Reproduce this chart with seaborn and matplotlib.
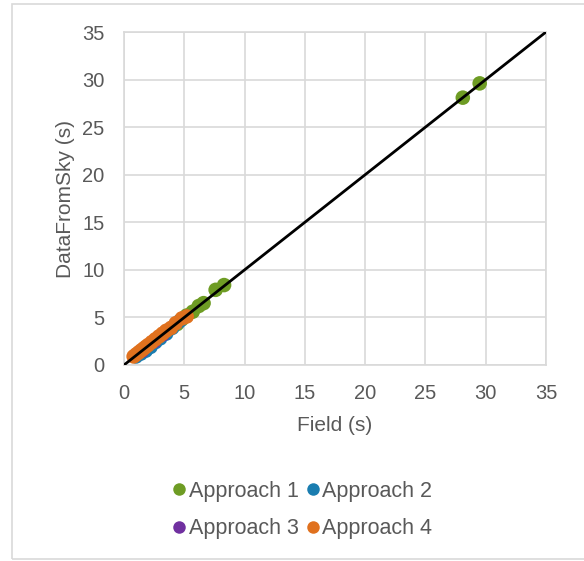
import matplotlib
matplotlib.use("Agg")
import matplotlib.pyplot as plt
import seaborn as sns
import pandas as pd
from matplotlib.patches import Rectangle

# ---- data ----
a1_field = [28.1, 29.5, 8.3, 7.6, 6.6, 6.2, 5.7, 5.2, 4.8, 4.4]
a1_sky   = [28.1, 29.6, 8.4, 7.9, 6.5, 6.2, 5.6, 5.2, 4.8, 4.3]
a2_field = [1.0, 1.4, 1.8, 2.2, 2.6, 3.0, 3.5, 4.0, 4.6]
a2_sky   = [0.9, 1.2, 1.5, 1.9, 2.4, 2.8, 3.3, 3.9, 4.6]
a3_field = [1.5, 2.5, 3.2]
a3_sky   = [1.5, 2.5, 3.2]
a4_field = [0.8, 1.0, 1.2, 1.4, 1.6, 1.8, 2.0, 2.3, 2.6, 2.9, 3.2, 3.5, 3.9, 4.3, 4.8, 5.2]
a4_sky   = [0.9, 1.1, 1.3, 1.5, 1.7, 1.9, 2.1, 2.4, 2.7, 3.0, 3.3, 3.6, 3.9, 4.4, 4.9, 5.1]
labels = ["Approach 1", "Approach 2", "Approach 3", "Approach 4"]
colors = ["#6E9C24", "#1A7DB0", "#7030A0", "#E0711E"]
line_x = [0, 35]
line_y = [0, 35]
ticks = [0, 5, 10, 15, 20, 25, 30, 35]

rows = []
for lab, fx, sy in zip(labels, [a1_field, a2_field, a3_field, a4_field],
                       [a1_sky, a2_sky, a3_sky, a4_sky]):
    for f, s in zip(fx, sy):
        rows.append({"Field": f, "Sky": s, "Approach": lab})
df = pd.DataFrame(rows)

sns.set_style("white")
plt.rcParams["font.family"] = ["Liberation Sans", "DejaVu Sans"]
TXT = "#595959"

fig = plt.figure(figsize=(5.84, 5.61), dpi=100)
fig.patches.append(Rectangle((12/584, 1-559/561), 1.0, (559-4)/561,
                             transform=fig.transFigure, fill=False,
                             edgecolor="#D9D9D9", linewidth=1.2))
ax = fig.add_axes([124/584, 1-365/561, 422/584, 333/561])

sns.scatterplot(data=df, x="Field", y="Sky", hue="Approach",
                hue_order=labels, palette=dict(zip(labels, colors)),
                s=110, linewidth=0, ax=ax, legend=False, zorder=3)
ax.plot(line_x, line_y, color="black", linewidth=2.0, zorder=4)

ax.set_xlim(0, 35)
ax.set_ylim(0, 35)
ax.set_xticks(ticks)
ax.set_yticks(ticks)
ax.grid(True, color="#D9D9D9", linewidth=1.2)
ax.set_axisbelow(True)
for sp in ax.spines.values():
    sp.set_color("#D9D9D9")
    sp.set_linewidth(1.2)
ax.tick_params(axis="both", length=0, labelsize=14.5, labelcolor=TXT, pad=14)
ax.set_xlabel("Field (s)", fontsize=15, color=TXT, labelpad=9)
ax.set_ylabel("DataFromSky (s)", fontsize=15, color=TXT, labelpad=5)

# legend rows: Approach 1, Approach 2 / Approach 3, Approach 4
order = [0, 2, 1, 3]
handles = [plt.Line2D([], [], marker="o", linestyle="none", markersize=9,
                      markerfacecolor=colors[i], markeredgewidth=0) for i in order]
leg = fig.legend(handles, [labels[i] for i in order], loc="center",
                 bbox_to_anchor=(301/584, 1-510/561),
                 ncol=2, frameon=False, fontsize=15.5, handletextpad=0.0,
                 columnspacing=0.2, labelspacing=0.75, handlelength=0.9)
for t in leg.get_texts():
    t.set_color(TXT)

fig.savefig("out.png", dpi=100)
